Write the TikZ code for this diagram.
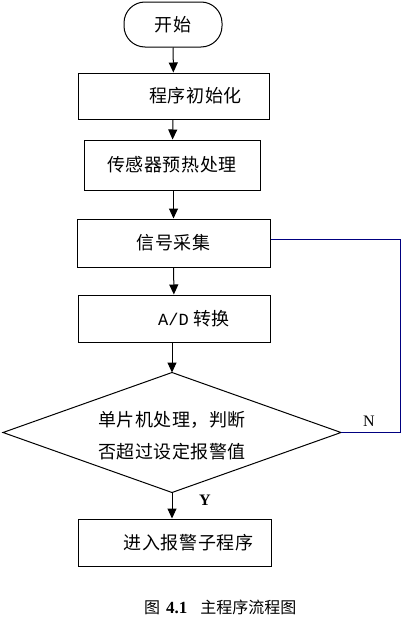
\documentclass[tikz,border=0pt]{standalone}
\usepackage{fontspec}
\setmainfont{Liberation Serif}
\newfontfamily\cjk[LetterSpace=3]{Noto Sans CJK SC}
\newfontfamily\cjkcap{Noto Sans CJK SC}
\newfontfamily\monofont{Liberation Mono}
\usetikzlibrary{arrows.meta}
\definecolor{navy}{RGB}{0,0,128}
\tikzset{
    every node/.style={inner sep=0pt, font=\cjk\fontsize{18}{32}\selectfont}
}
\tikzset{
    box/.style={draw, rectangle, line width=1pt},
    term/.style={draw, rectangle, rounded corners=21pt, line width=1pt},
    flow/.style={line width=1pt, -{Triangle[length=10pt,width=9pt]}}
}

\begin{document}
\begin{tikzpicture}[x=1pt, y=1pt]
  \useasboundingbox (0,0) rectangle (405,-621);

  \node (start) [term, minimum width=98pt, minimum height=45pt] at (173,-24.5) {开始};
  \node (init) [box, minimum width=191pt, minimum height=46pt,
    label={[xshift=22pt]center:程序初始化}] at (173.5,-96) {};
  \node (heat) [box, minimum width=176pt, minimum height=50pt] at (172,-165) {传感器预热处理};
  \node (sample) [box, minimum width=193pt, minimum height=48pt] at (173.5,-243) {信号采集};
  \node (adc) [box, minimum width=192pt, minimum height=47pt,
    label={[xshift=20pt]center:{\monofont\fontsize{17}{20}\selectfont A/D} 转换}] at (174,-318.5) {};
  \node (judge) [draw=none] at (172,-432.5) {};
  \draw[line width=1pt] (172,-372.5) -- (341,-432.5) -- (172,-492.5) -- (3,-432.5) -- cycle;
  \node (judgetext) [align=center] at (172,-436) {单片机处理，判断\\否超过设定报警值};
  \node (alarm) [box, minimum width=193pt, minimum height=47pt,
    label={[xshift=14pt]center:进入报警子程序}] at (174.5,-542.5) {};

  \coordinate (jtop) at (172,-372.5);
  \coordinate (jbot) at (172,-492.5);
  \coordinate (jright) at (341,-432.5);
  \coordinate (nr) at (400,-432.5);
  \coordinate (nt) at (400,-239.5);

  \node (N) [font=\rmfamily\fontsize{16}{18}\selectfont] at (369,-421) {N};
  \node (Y) [font=\rmfamily\bfseries\fontsize{16}{18}\selectfont] at (205,-500) {Y};

  \node (caption) [anchor=west, font=\cjkcap\fontsize{16}{18}\selectfont] at (144,-607)
    {图\hspace{6pt}{\rmfamily\bfseries\fontsize{17}{18}\selectfont 4.1}\hspace{13pt}主程序流程图};

  \draw[flow] (start) -- (init);
  \draw[flow] (init) -- (heat);
  \draw[flow] (heat.south -| sample) -- (sample);
  \draw[flow] (sample) -- (adc);
  \draw[flow] (adc.south -| jtop) -- (jtop);
  \draw[flow] (jbot) -- (alarm.north -| jbot);
  \draw[navy, line width=1pt] (jright) -- (nr) -- (nt) -- (sample.east |- nt);
\end{tikzpicture}
\end{document}
